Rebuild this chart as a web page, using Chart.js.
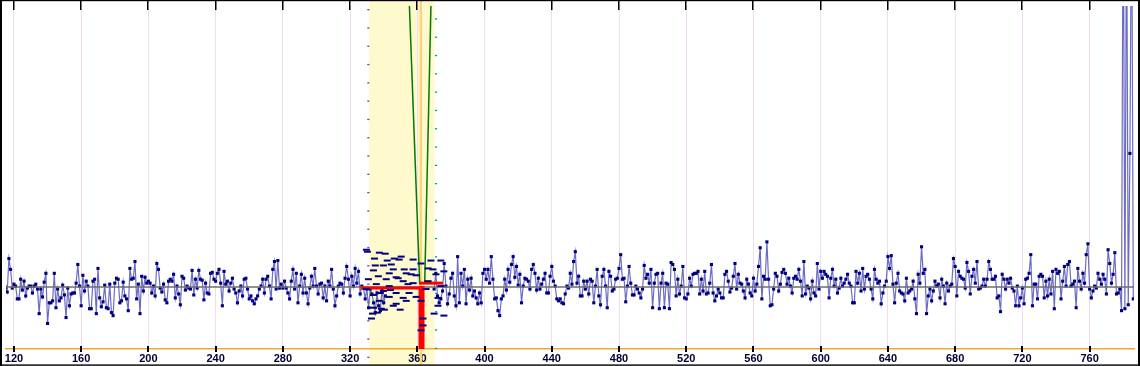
<!DOCTYPE html>
<html><head><meta charset="utf-8">
<script src="https://cdn.jsdelivr.net/npm/chart.js@4/dist/chart.umd.min.js"></script>
<style>html,body{margin:0;padding:0;background:#fff;overflow:hidden}#wrap{position:relative;width:1140px;height:366px}canvas{display:block}</style>
</head><body><div id="wrap"><canvas id="c" width="1140" height="366" style="width:1140px;height:366px"></canvas></div>
<script>
// ---- axis ----
const xTicks = [120,160,200,240,280,320,360,400,440,480,520,560,600,640,680,720,760];
const xMin = 115.27, xMax = 786.42;
const yMin = -63, yMax = 286;

// ---- highlighted window ----
const band = [331.3, 370.3];
const markerLine = 362.1;
const leftDashLine = 330.8;
const rightDashLine = 371.1;

// ---- main signal (value above baseline), segment before the window ----
const seg1Start = 115;
const seg1 = [
0,-5,29,18,-1,3,1,-12,-12,8,-3,6,
-9,-1,1,1,-6,1,3,-2,-27,-2,-10,5,
14,-37,-16,-16,-14,14,-21,-2,-14,-11,2,-8,
-31,-1,-19,-7,-6,-6,4,23,1,-19,12,-4,
6,1,-22,-22,6,8,-27,19,-11,-20,-15,2,
-21,-22,3,-26,-29,4,9,8,-16,-14,5,-9,
-12,-24,19,8,9,26,-12,3,-27,11,-4,10,
4,6,4,-6,1,-9,24,18,-1,-5,3,-13,
-16,6,8,6,13,-11,1,-7,-18,11,9,-3,
1,-1,-2,17,-8,8,-1,17,8,7,
-13,4,-6,-7,14,15,8,6,14,18,
4,-19,16,3,6,-4,4,9,-2,-6,
-16,-4,1,-9,8,9,-2,-12,-9,-14,
-17,-12,-9,-2,1,8,-6,8,11,1,
-12,18,26,-2,27,-1,3,-1,6,-1,
-6,-12,6,18,-2,14,-16,1,13,-6,
9,-6,-17,-1,11,1,19,1,-7,3,
4,-11,1,-14,6,1,18,-2,-19,-9,
1,4,3,-6,9,21,8,-9,11,1,
19,4,16,-7,1,-1,-12,-2,-21,-2,
-7,-16,-26,-6,-19,-24,-2,-16,-9
];
// ---- segment after the window ----
const seg2Start = 370;
const seg2 = [
-2,14,-9,-16,-12,-4,24,1,-17,-7,
9,14,-9,-19,31,-16,14,1,18,-17,
8,-3,9,-9,-4,-11,-17,-6,-16,14,
18,8,18,4,31,8,-12,-11,-24,-29,
-12,-9,8,-3,18,5,23,31,10,21,
2,13,-16,1,9,8,6,-2,18,23,
14,-3,9,-2,3,8,14,-6,-6,11,
21,6,1,-12,-14,-12,-16,-17,-7,1,
-1,
14,3,26,36,4,11,-9,-9,6,-2,
6,-7,8,6,-16,1,18,-9,-18,11,
18,1,-21,16,11,-4,-2,8,9,19,
33,8,9,-15,1,21,4,-8,-8,1,
-2,-6,-11,-2,22,9,13,4,18,
-21,4,13,14,-22,4,14,-21,4,3,
-22,25,23,18,-9,8,-7,1,21,-11,
-12,-7,9,1,13,14,14,16,-7,8,
-4,16,-7,-6,4,23,-6,-14,-9,-2,
-6,-11,-11,13,16,6,-5,-1,11,24,
-2,13,4,3,-4,-11,8,3,-6,
-9,9,-4,3,21,40,-12,11,8,46,
8,-19,-18,-2,14,11,-4,3,15,18,
14,3,9,1,-6,9,11,8,18,6,
-9,26,-7,1,-1,-12,6,-6,-9,24,
-2,16,9,16,13,11,-11,9,18,1,
8,-6,-1,9,1,4,8,13,
4,1,-16,
-16,16,4,14,-4,19,-2,11,13,8,
-2,-12,18,8,4,6,-17,-6,1,6,
31,19,32,3,-16,4,14,-4,-6,-7,
-14,9,-6,-4,-2,6,-12,-27,13,4,
41,14,18,-27,-9,-2,-14,-4,6,1,
3,-11,8,1,-17,4,-4,1,3,29,
21,-9,16,11,9,8,-1,25,16,-7,
11,18,4,26,-2,-1,1,8,1,
8,26,18,8,8,11,-11,-9,-25,13,
8,-2,8,4,9,-1,-4,-19,1,
-19,-11,-1,-17,8,9,14,33,-19,3,
3,-12,11,13,11,-11,6,-9,8,
-7,16,-22,18,14,16,-12,6,21,1,
23,26,1,3,6,-21,19,6,-2,14,
4,33,44,-2,-11,-4,1,-1,14,8,
3,13,8,-7,38,24,4,13,35,-7,
-6,-2,-24,
430,-22,400,-18,136,420,-12
];

// ---- scattered dash markers inside the window ----
const dashX = [329.7,337.4,342.1,349.2,335.0,339.8,345.7,352.2,357.5,333.9,343.3,353.4,359.3,336.8,347.4,330.9,341.5,351.6,357.5,335.6,343.3,329.7,339.8,347.4,355.1,333.9,343.3,351.6,337.4,347.4,333.9,340.4,333.3,363.4,363.4,368.1,374.0,369.3,371.1,366.4,372.3,372.3,365.2,366.4,362.2,334.5,346.3,344.5,356.3,348.6,338.6,
  332.7,336.2,345.7,353.4,359.3,330.3,340.9,350.4,357.5,375.8,374.0,375.8,362.2,362.2,344.0,349.8,338.0,354.5,370.0];
const dashY = [38,35,27,28,22,22,18,18,18,17,14,14,12,11,10,8,8,6,4,3,1,-2,-4,-6,-6,-8,-10,-11,-14,-17,-21,-23,-27,-32,-39,27,27,18,13,6,-11,-19,-2,19,24,29,29,23,13,9,-22,
  -32,-26,-19,-14,-10,36,34,31,28,16,1,-29,-14,-44,-3,-23,-6,3,-27];

// ---- red trace ----
const redHX = [326.2, 361.0], redHY = [-1, -1];
const redBarX = [362.5, 362.5], redBarY = [-63, 1];
const redRX = [361.0, 375.2], redRY = [4, 4];

// ---- green funnel ----
const greenLX = [355.3, 361.4], greenLY = [286, 4];
const greenRX = [368.1, 364.4], greenRY = [286, 4];

const baselineX = [xMin, xMax], baselineY = [0, 0];

function pts(xs, ys){ return xs.map((x,i)=>({x:x, y:ys[i]})); }

const noise = [];
seg1.forEach((v,i)=>noise.push({x:seg1Start+i, y:v}));
for (let u = seg1Start+seg1.length; u < seg2Start; u++) noise.push({x:u, y:null});
seg2.forEach((v,i)=>noise.push({x:seg2Start+i, y:v}));

const decor = {
  id:'decor',
  beforeDraw(chart){
    const {ctx} = chart, xs = chart.scales.x;
    ctx.save();
    ctx.fillStyle = '#ffffff'; ctx.fillRect(0,0,chart.width,chart.height);
    const a = xs.getPixelForValue(band[0]), b = xs.getPixelForValue(band[1]);
    ctx.fillStyle = '#fffacd'; ctx.fillRect(a,0,b-a,chart.height);
    ctx.restore();
  },
  beforeDatasetsDraw(chart){
    const {ctx} = chart, xs = chart.scales.x;
    ctx.save();
    const m = xs.getPixelForValue(markerLine);
    ctx.fillStyle = '#ffd27a'; ctx.fillRect(m-1.2, 0, 2.4, chart.height);
    const lp = xs.getPixelForValue(leftDashLine);
    ctx.fillStyle = '#7a3cc8';
    for (let y = 9; y < chart.height; y += 18.3) ctx.fillRect(lp-1, y, 2.2, 1.3);
    const rp = xs.getPixelForValue(rightDashLine);
    ctx.fillStyle = '#00a0a0';
    for (let y = 18.3; y < chart.height; y += 18.3) ctx.fillRect(rp-1, y, 2.2, 1.3);
    ctx.restore();
  },
  afterDraw(chart){
    const {ctx} = chart, xs = chart.scales.x, area = chart.chartArea;
    ctx.save();
    ctx.fillStyle = '#000';
    xTicks.forEach(v=>{
      const p = Math.round(xs.getPixelForValue(v));
      ctx.fillRect(p-1, 0, 1.5, 10);
      ctx.fillRect(p-1, area.bottom-3, 2, 6);
    });
    ctx.fillRect(0,0,2,chart.height);
    ctx.fillRect(0,0,chart.width,1.2);
    ctx.fillRect(chart.width-2,0,2,chart.height);
    ctx.fillRect(0,chart.height-1.6,chart.width,1.4);
    ctx.restore();
  }
};

new Chart(document.getElementById('c'), {
  type:'line',
  data:{ datasets:[
    { data: pts(dashX, dashY), showLine:false, pointStyle:'line', pointRadius:3.5, pointBorderWidth:2, pointBorderColor:'#000080', borderColor:'#000080' },
    { data: pts(redHX, redHY), borderColor:'#ff0000', borderWidth:3, pointRadius:0 },
    { data: pts(redBarX, redBarY), borderColor:'#ff0000', borderWidth:6, pointRadius:0, borderCapStyle:'butt' },
    { data: pts(redRX, redRY), borderColor:'#ff0000', borderWidth:3, pointRadius:0 },
    { data: pts(greenLX, greenLY), borderColor:'#007a00', borderWidth:1.5, pointRadius:0 },
    { data: pts(greenRX, greenRY), borderColor:'#007a00', borderWidth:1.5, pointRadius:0 },
    { data: pts(baselineX, baselineY), borderColor:'#6e6e6e', borderWidth:1.5, pointRadius:0 },
    { data: noise, borderColor:'#6c6cc4', borderWidth:1.2, tension:0, spanGaps:false,
      pointStyle:'rect', pointRadius:2.2, pointBackgroundColor:'#000080', pointBorderWidth:0 }
  ]},
  options:{
    responsive:false, animation:false, events:[],
    layout:{ padding:{ left:2, right:2, top:0, bottom:1 } },
    plugins:{ legend:{display:false}, tooltip:{enabled:false} },
    scales:{
      x:{ type:'linear', min:xMin, max:xMax,
        afterBuildTicks: s => { s.ticks = xTicks.map(v=>({value:v})); },
        afterFit: s => { s.height = 16; s.paddingLeft = 0; s.paddingRight = 0; },
        grid:{ color:'#f0dcf0', lineWidth:1, drawTicks:false },
        border:{ display:true, color:'#f0a830', width:1.5 },
        ticks:{ font:{ family:'Liberation Sans', size:11, weight:'bold' }, color:'#000030', padding:3, maxRotation:0, autoSkip:false }
      },
      y:{ type:'linear', min:yMin, max:yMax, display:false }
    }
  },
  plugins:[decor]
});
</script></body></html>
